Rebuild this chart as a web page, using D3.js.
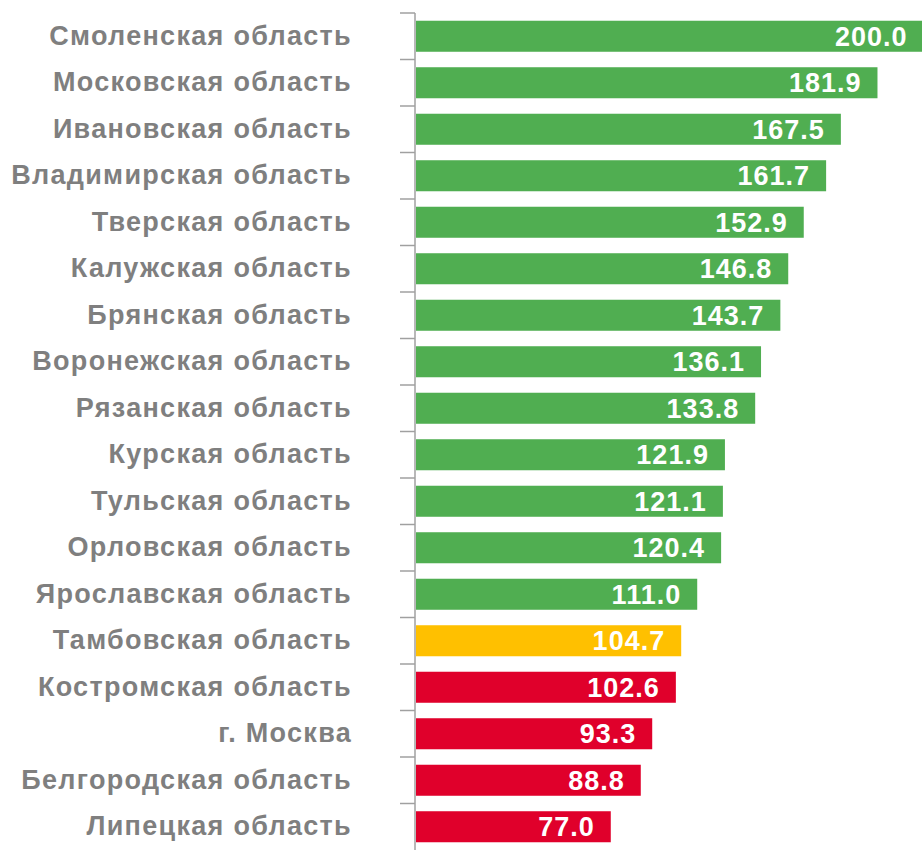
<!DOCTYPE html>
<html>
<head>
<meta charset="utf-8">
<script src="https://cdn.jsdelivr.net/npm/d3@7"></script>
<style>
  body { margin: 0; background: #fff; }
  text { font-family: "Liberation Sans", Arial, sans-serif; font-weight: bold; }
</style>
</head>
<body>
<svg id="chart"></svg>
<script>
// регионы и значения
const regions = [
  'Смоленская область', 'Московская область', 'Ивановская область',
  'Владимирская область', 'Тверская область', 'Калужская область',
  'Брянская область', 'Воронежская область', 'Рязанская область',
  'Курская область', 'Тульская область', 'Орловская область',
  'Ярославская область', 'Тамбовская область', 'Костромская область',
  'г. Москва', 'Белгородская область', 'Липецкая область'
]
const values = [200.0, 181.9, 167.5, 161.7, 152.9, 146.8, 143.7, 136.1, 133.8,
  121.9, 121.1, 120.4, 111.0, 104.7, 102.6, 93.3, 88.8, 77.0]

const width = 922, height = 850
const margin = { top: 13, right: 0, bottom: 0, left: 415 }

const svg = d3.select('#chart')
  .attr('width', width)
  .attr('height', height)

const x = d3.scaleLinear()
  .domain([0, 200])
  .range([margin.left, 923.5])

const y = d3.scaleBand()
  .domain(regions)
  .range([margin.top, 850])
  .paddingInner(0.333)
  .paddingOuter(0.1665)

// red / yellow / green by level
const color = d3.scaleThreshold()
  .domain([104, 105])
  .range(['#E0002B', '#FFC000', '#50AE51'])

svg.append('g')
  .selectAll('rect')
  .data(values)
  .join('rect')
  .attr('x', x(0) + 1)
  .attr('y', (d, i) => y(regions[i]))
  .attr('width', d => x(d) - x(0) - 1)
  .attr('height', y.bandwidth())
  .attr('fill', d => color(d))

svg.append('g')
  .selectAll('text')
  .data(values)
  .join('text')
  .attr('x', d => x(d) - 16)
  .attr('y', (d, i) => y(regions[i]) + y.bandwidth() / 2)
  .attr('dy', '0.36em')
  .attr('text-anchor', 'end')
  .attr('fill', '#fff')
  .style('font-size', '27px')
  .style('letter-spacing', '1px')
  .text(d => d.toFixed(1))

// category labels
const yAxis = d3.axisLeft(y)
  .tickSize(0)
  .tickPadding(63)

const ga = svg.append('g')
  .attr('transform', `translate(${margin.left},0)`)
  .call(yAxis)
ga.select('.domain').remove()
ga.selectAll('text')
  .attr('fill', '#7F7F7F')
  .style('font-size', '27px')
  .style('letter-spacing', '1.3px')

// axis line with ticks at band boundaries
const step = y.step()
const bounds = d3.range(regions.length + 1).map(i => margin.top + i * step)
const gl = svg.append('g')
gl.append('line')
  .attr('x1', margin.left).attr('x2', margin.left)
  .attr('y1', margin.top).attr('y2', height)
  .attr('stroke', '#A0A0A0').attr('stroke-width', 1.5)
gl.selectAll('.tick')
  .data(bounds.slice(0, -1))
  .join('line')
  .attr('class', 'tick')
  .attr('x1', margin.left - 15).attr('x2', margin.left)
  .attr('y1', d => d).attr('y2', d => d)
  .attr('stroke', '#A0A0A0').attr('stroke-width', 1.5)
</script>
</body>
</html>
